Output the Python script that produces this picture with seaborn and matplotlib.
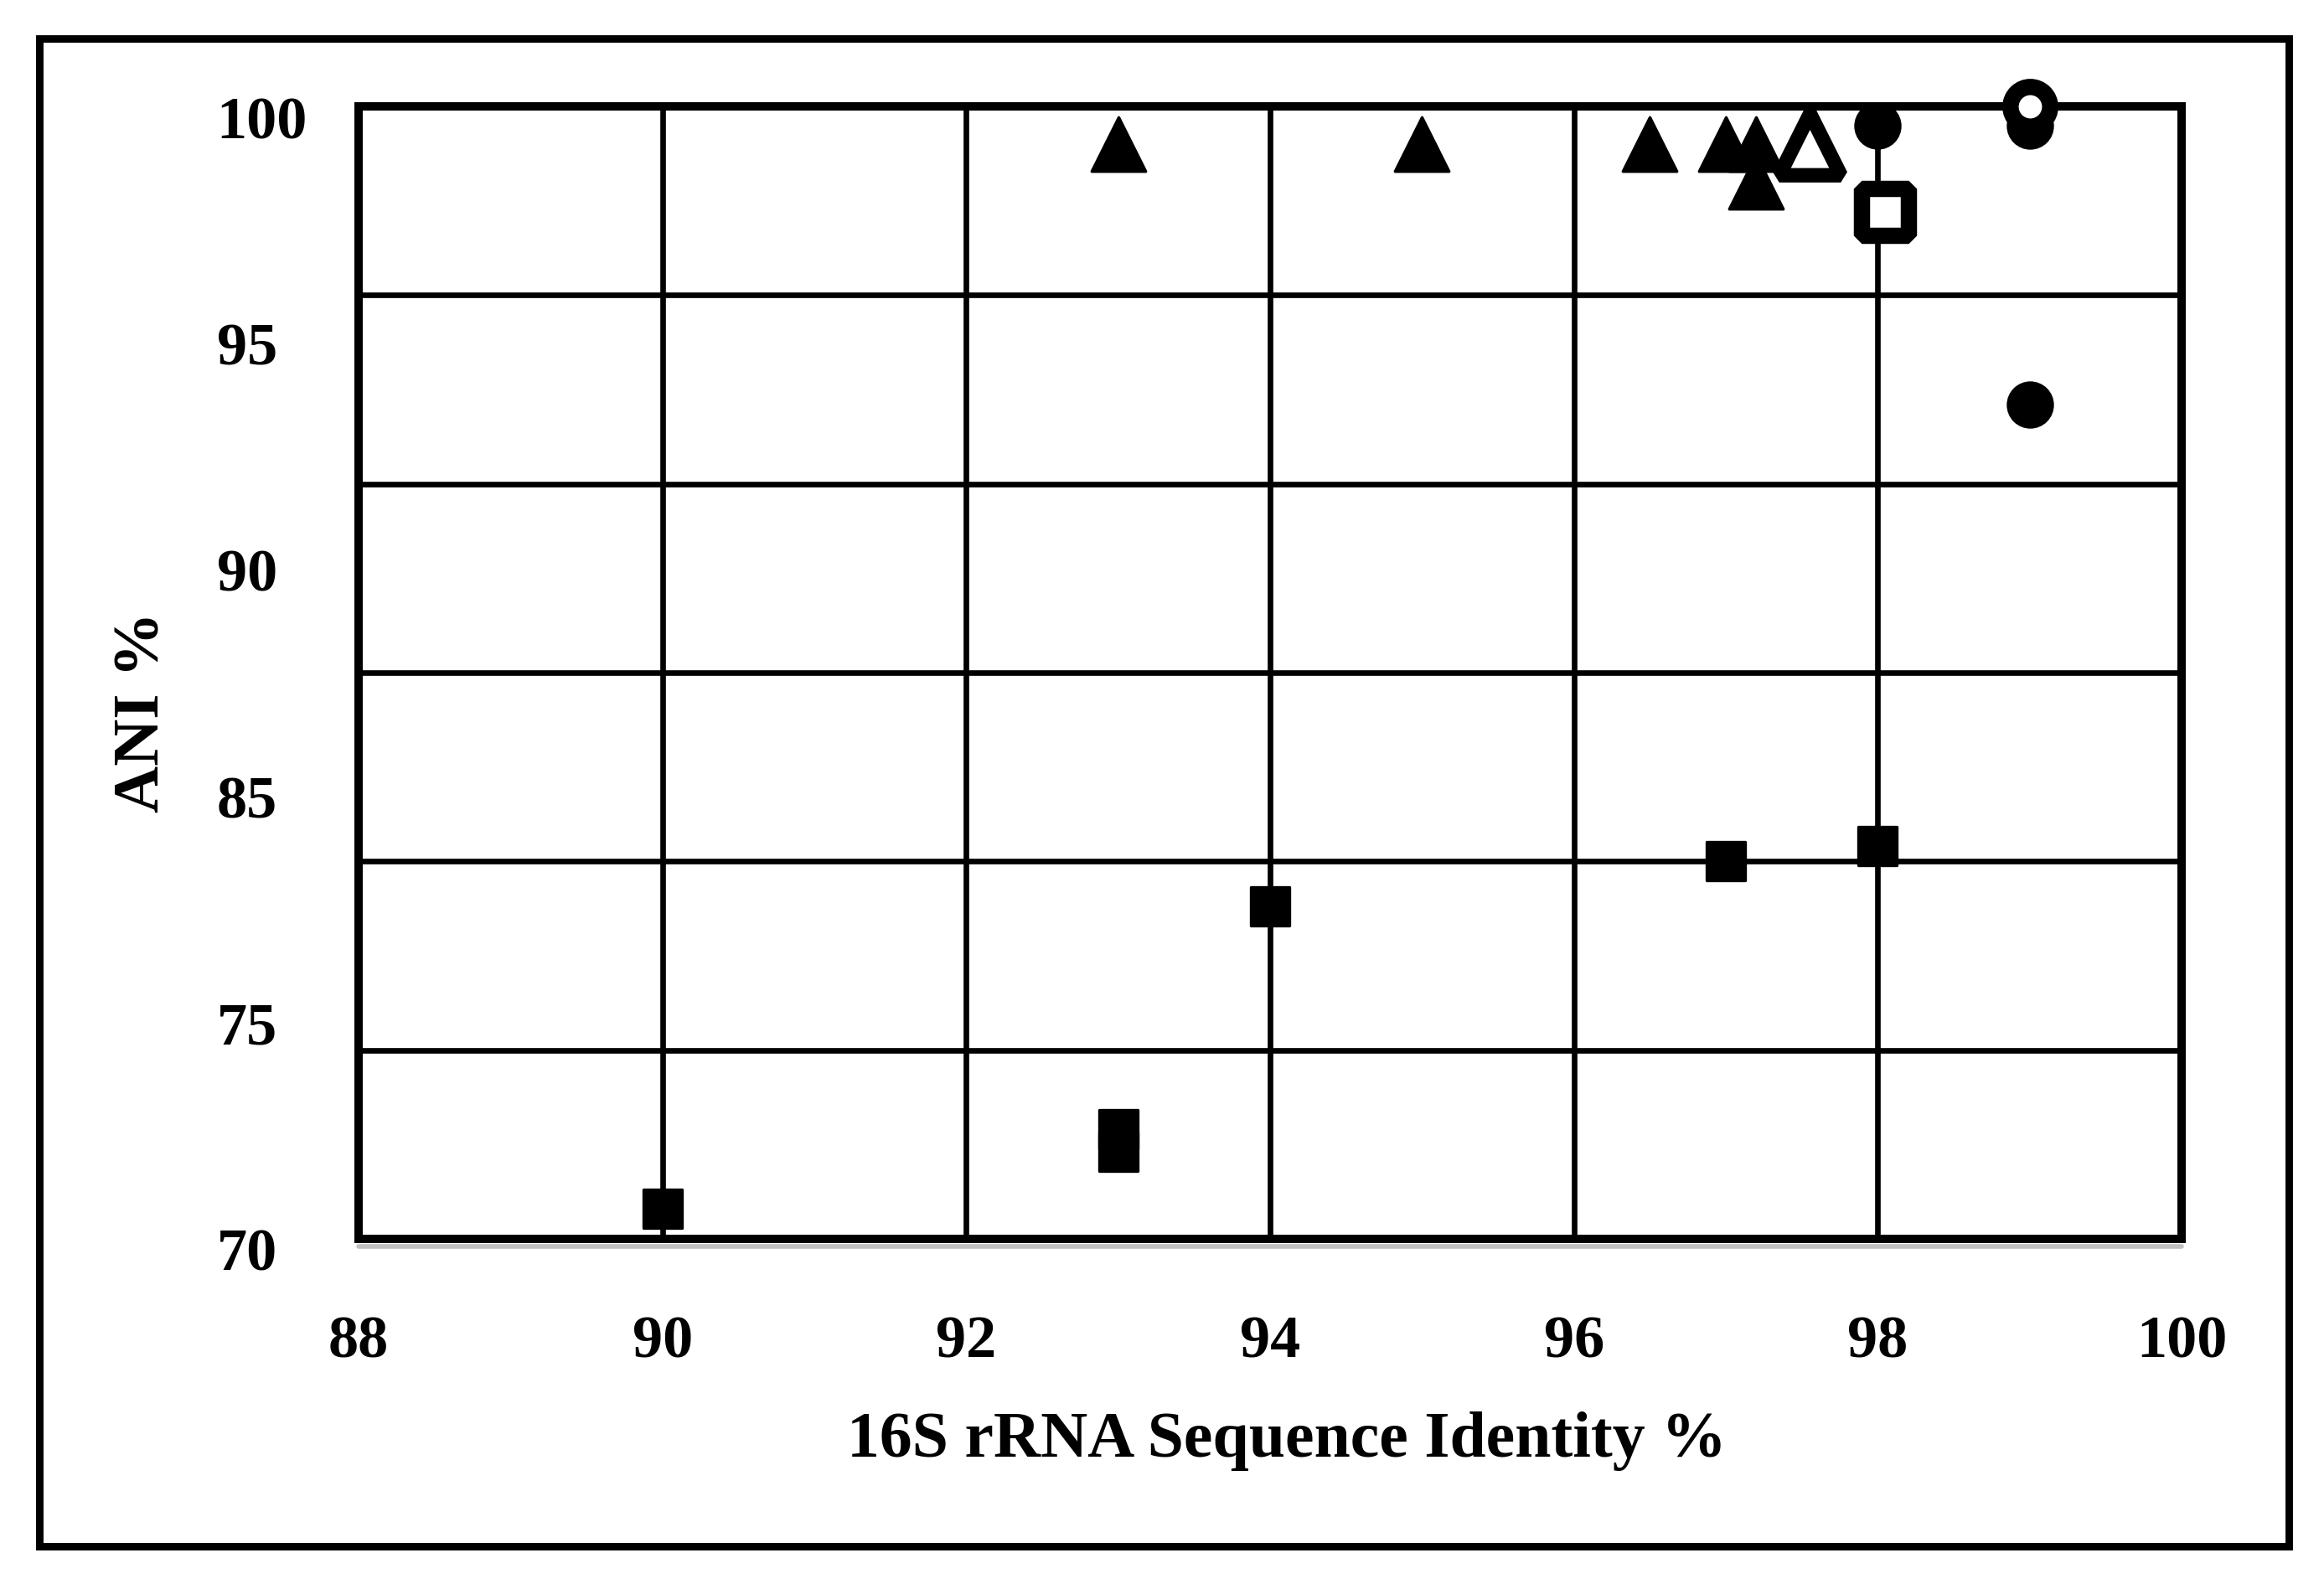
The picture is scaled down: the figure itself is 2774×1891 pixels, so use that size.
import matplotlib
matplotlib.use("Agg")
import matplotlib.pyplot as plt
import seaborn as sns
import pandas as pd
from matplotlib.patches import Rectangle
from matplotlib.lines import Line2D
from matplotlib.transforms import ScaledTranslation

# %%
# values
sq_filled_x = [90, 93, 93, 94, 97, 98]
sq_filled_y = [70.8, 72.3, 72.9, 78.8, 80.0, 80.4]
tri_filled_x = [93, 95, 96.5, 97, 97.2, 97.2]
tri_filled_y = [99.0, 99.0, 99.0, 99.0, 99.0, 98.0]
circ_filled_x = [98, 99, 99]
circ_filled_y = [99.5, 99.5, 92.1]
tri_open_x = [97.55]
tri_open_y = [99.0]
sq_open_x = [98.05]
sq_open_y = [97.2]
circ_open_x = [99.0]
circ_open_y = [100.0]

x_ticks = [88, 90, 92, 94, 96, 98, 100]
y_grid = [70, 75, 80, 85, 90, 95, 100]
y_label_pos = [70, 76, 82, 88, 94, 100]
y_labels = ["70", "75", "85", "90", "95", "100"]

# %%
sns.set_style("white")
plt.rcParams["font.family"] = ["Liberation Serif", "DejaVu Serif"]
plt.rcParams["font.weight"] = "bold"
plt.rcParams.update({"text.color": "black", "axes.labelcolor": "black",
                     "xtick.color": "black", "ytick.color": "black"})

fig, ax = plt.subplots(figsize=(13.87, 9.455), dpi=200)
fig.subplots_adjust(left=0.1543, right=0.9387, bottom=0.2179, top=0.9328)

groups = [
    # x, y, marker, size, face, linewidth, joinstyle
    (sq_filled_x, sq_filled_y, "s", 280, "black", 1.2, "round"),
    (tri_filled_x, tri_filled_y, "^", 540, "black", 1.2, "round"),
    (circ_filled_x, circ_filled_y, "o", 380, "black", 0.8, "round"),
    (tri_open_x, tri_open_y, "^", 700, "white", 6.2, "bevel"),
    (sq_open_x, sq_open_y, "s", 420, "white", 7.0, "bevel"),
    (circ_open_x, circ_open_y, "o", 290, "white", 7.0, "round"),
]
for i, (gx, gy, mk, size, face, lw, js) in enumerate(groups):
    df = pd.DataFrame({"x": gx, "y": gy})
    sns.scatterplot(
        data=df, x="x", y="y", ax=ax, marker=mk, s=size,
        color=face, edgecolor="black", linewidth=lw,
        joinstyle=js, zorder=4 + i, clip_on=False, legend=False,
    )

ax.set_xlim(88, 100)
ax.set_ylim(70, 100)
ax.set_xticks(x_ticks)
ax.yaxis.remove_overlapping_locs = False
ax.set_yticks(y_grid, labels=[])
ax.set_yticks(y_label_pos, labels=y_labels, minor=True)
ax.grid(True, which="major", color="black", linewidth=2.4)
ax.grid(False, which="minor")

ax.tick_params(axis="x", length=0, pad=33, labelsize=26, colors="black")
ax.tick_params(axis="y", which="both", length=0, colors="black")
ax.tick_params(axis="y", which="minor", pad=61, labelsize=26)
for lab in ax.get_yticklabels(minor=True):
    lab.set_ha("left")
    lab.set_fontweight("bold")
    lab.set_transform(lab.get_transform() + ScaledTranslation(0, -0.065, fig.dpi_scale_trans))
for lab in ax.get_xticklabels():
    lab.set_fontweight("bold")

for s in ax.spines.values():
    s.set_linewidth(3.6)
    s.set_color("black")

ax.set_xlabel("16S rRNA Sequence Identity %", fontsize=28, fontweight="bold", color="black")
ax.set_ylabel("ANI %", fontsize=28, fontweight="bold", color="black")
ax.xaxis.label.set_va("center")
ax.yaxis.label.set_va("center")
ax.xaxis.set_label_coords(0.509, -0.179)
ax.yaxis.set_label_coords(-0.118, 0.465)

# thin grey shadow under the plot area and the outer frame
W, H = 2774, 1891
fig.add_artist(Line2D([428 / W, 2604 / W], [1 - 1488 / H] * 2, transform=fig.transFigure,
                      color="#c0c0c0", linewidth=2, zorder=1))
fig.add_artist(Rectangle((47 / W, 1 - 1846 / H), (2732 - 47) / W, (1846 - 46) / H,
                         transform=fig.transFigure, fill=False, edgecolor="black",
                         linewidth=3.2))

plt.savefig("out.png", dpi=200)
